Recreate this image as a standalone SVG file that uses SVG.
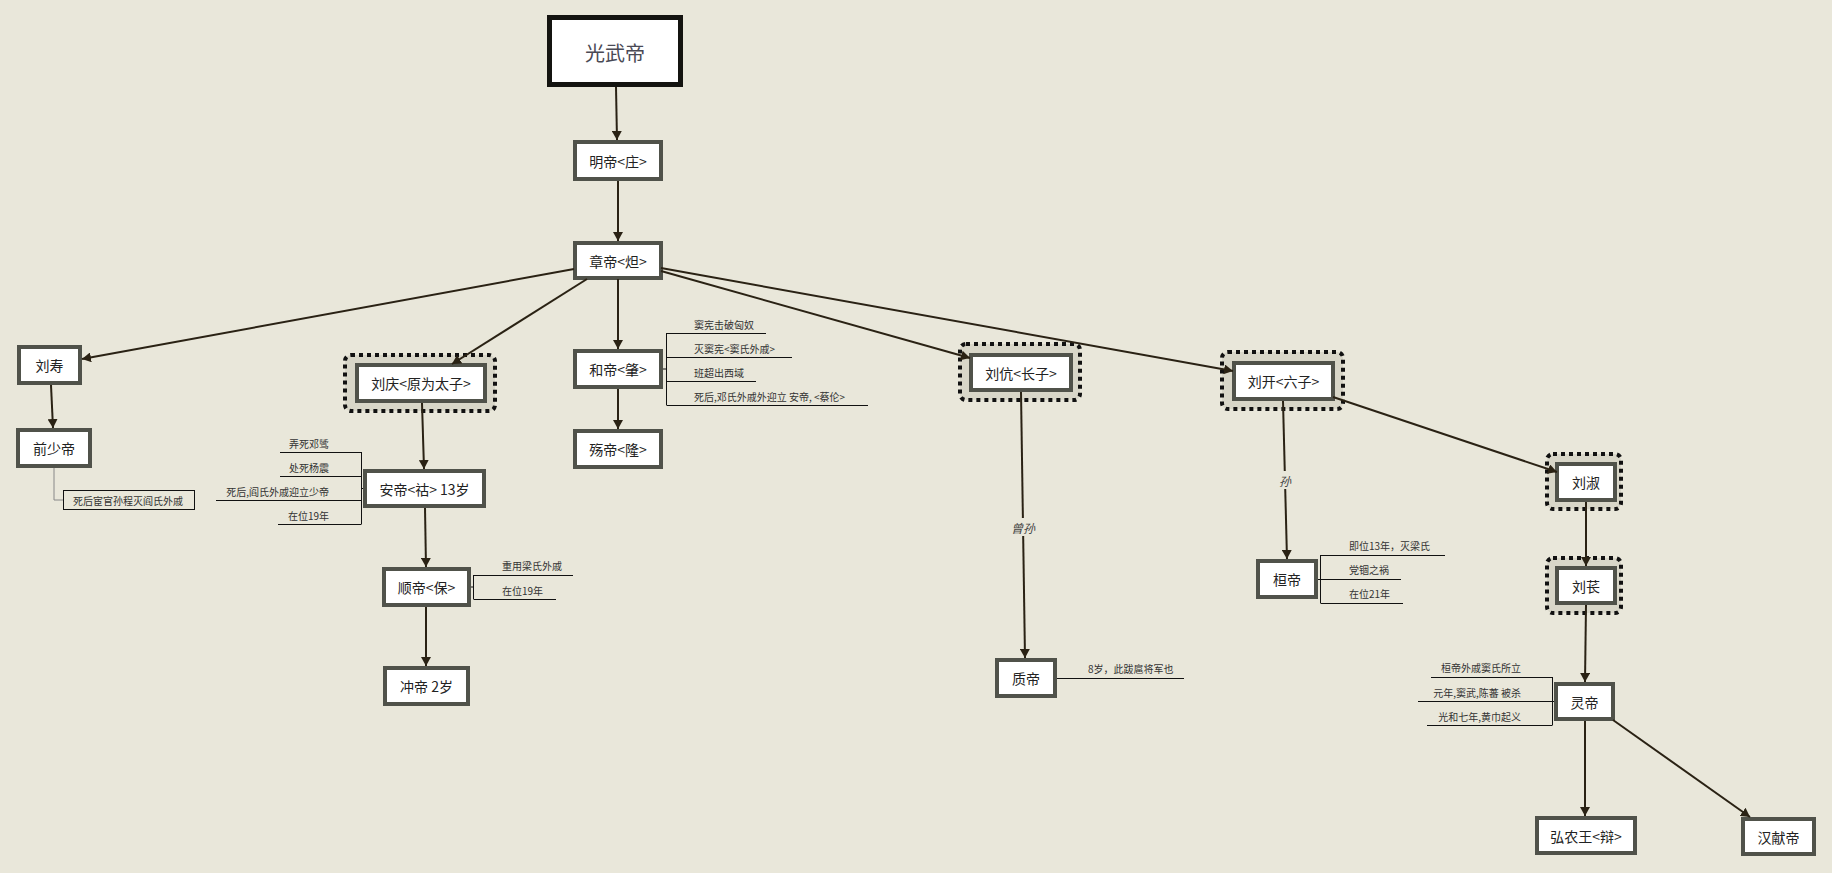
<svg xmlns="http://www.w3.org/2000/svg" width="1832" height="873" viewBox="0 0 1832 873">
<defs>
<marker id="arr" markerUnits="userSpaceOnUse" markerWidth="10" markerHeight="10" refX="9" refY="5" orient="auto">
<path d="M0,0 L9,5 L0,10 z" fill="#2a2214"/>
</marker>
<style>
.box{fill:#ffffff;stroke:#50524a;stroke-width:4}
.root{fill:#ffffff;stroke:#141410;stroke-width:5}
.halo{fill:#d8d6c8;stroke:#111;stroke-width:4;stroke-dasharray:4 4}
.t{font-family:"Noto Sans CJK SC","Noto Sans",sans-serif;font-size:14px;fill:#222;text-anchor:middle;dominant-baseline:central}
.rt{font-family:"Noto Sans CJK SC","Noto Sans",sans-serif;font-size:20px;fill:#4a4a55;text-anchor:middle;dominant-baseline:central}
.n{font-family:"Noto Sans CJK SC","Noto Sans",sans-serif;font-size:10px;fill:#333;dominant-baseline:central}
.nr{font-family:"Noto Sans CJK SC","Noto Sans",sans-serif;font-size:10px;fill:#333;dominant-baseline:central;text-anchor:end}
.e{stroke:#2a2214;stroke-width:2;fill:none;marker-end:url(#arr)}
.nl{stroke:#111;stroke-width:1;fill:none}
.lbl{font-family:"Noto Sans CJK SC","Noto Sans",sans-serif;font-size:12px;fill:#444;font-style:italic;text-anchor:middle;dominant-baseline:central}
</style>
</defs>
<rect width="1832" height="873" fill="#e9e7da"/>

<g id="n-guangwu"><rect class="root" x="549.5" y="17.5" width="131" height="67"/><text class="rt" x="615" y="52">光武帝</text></g>
<g id="n-ming"><rect class="box" x="575" y="142" width="86" height="37"/><text class="t" x="618" y="160.5">明帝&lt;庄&gt;</text></g>
<g id="n-zhang"><rect class="box" x="575" y="243" width="86" height="35"/><text class="t" x="618" y="260.5">章帝&lt;炟&gt;</text></g>

<g id="n-liushou"><rect class="box" x="19" y="347" width="61" height="36"/><text class="t" x="49.5" y="365">刘寿</text></g>
<g id="n-qianshao"><rect class="box" x="18" y="430" width="72" height="36"/><text class="t" x="54" y="448">前少帝</text>
<path d="M54,468 V500 H63" stroke="#888" stroke-width="1" fill="none"/>
<rect x="63.5" y="490.5" width="131" height="19" fill="none" stroke="#111" stroke-width="1"/>
<text class="n" x="73" y="500">死后宦官孙程灭阎氏外戚</text></g>

<g id="n-liuqing"><rect class="halo" x="345" y="355" width="150" height="56" rx="6"/><rect class="box" x="357" y="365" width="128" height="36"/><text class="t" x="421" y="383">刘庆&lt;原为太子&gt;</text></g>
<g id="n-an"><rect class="box" x="365" y="471" width="119" height="35"/><text class="t" x="424.5" y="488.5">安帝&lt;祜&gt; 13岁</text>
<path class="nl" d="M363,488.5 H361 M361.5,452 V524 M280,452.5 H361.5 M280,476.5 H361.5 M216,500.5 H361.5 M278,524.5 H361.5"/>
<text class="nr" x="329" y="443">弄死邓骘</text>
<text class="nr" x="329" y="467">处死杨震</text>
<text class="nr" x="329" y="491">死后,阎氏外戚迎立少帝</text>
<text class="nr" x="329" y="515">在位19年</text></g>
<g id="n-shun"><rect class="box" x="384" y="569" width="85" height="36"/><text class="t" x="426.5" y="587">顺帝&lt;保&gt;</text>
<path class="nl" d="M471,587 H473 M473.5,575 V599 M473.5,575.5 H573 M473.5,599.5 H556"/>
<text class="n" x="502" y="565">重用梁氏外戚</text>
<text class="n" x="502" y="590">在位19年</text></g>
<g id="n-chong"><rect class="box" x="385" y="668" width="83" height="36"/><text class="t" x="426.5" y="686">冲帝 2岁</text></g>

<g id="n-he"><rect class="box" x="575" y="351" width="86" height="36"/><text class="t" x="618" y="369">和帝&lt;肇&gt;</text>
<path class="nl" d="M663,369 H666 M666.5,333 V405 M666.5,333.5 H766 M666.5,357.5 H792 M666.5,381.5 H756 M666.5,405.5 H868"/>
<text class="n" x="694" y="324">窦宪击破匈奴</text>
<text class="n" x="694" y="348">灭窦宪&lt;窦氏外戚&gt;</text>
<text class="n" x="694" y="372">班超出西域</text>
<text class="n" x="694" y="396">死后,邓氏外戚外迎立 安帝, &lt;蔡伦&gt;</text></g>
<g id="n-shang"><rect class="box" x="575" y="431" width="86" height="36"/><text class="t" x="618" y="449">殇帝&lt;隆&gt;</text></g>

<g id="n-liukang"><rect class="halo" x="960" y="344" width="120" height="56" rx="6"/><rect class="box" x="971" y="355" width="100" height="35"/><text class="t" x="1021" y="372.5">刘伉&lt;长子&gt;</text></g>
<g id="n-zhi"><rect class="box" x="997" y="660" width="58" height="36"/><text class="t" x="1026" y="678">质帝</text>
<path class="nl" d="M1057,678.5 H1184"/>
<text class="n" x="1088" y="668">8岁，此跋扈将军也</text></g>

<g id="n-liukai"><rect class="halo" x="1222" y="352" width="121" height="57" rx="6"/><rect class="box" x="1234" y="363" width="99" height="36"/><text class="t" x="1283.5" y="381">刘开&lt;六子&gt;</text></g>
<g id="n-huan"><rect class="box" x="1258" y="561" width="58" height="36"/><text class="t" x="1287" y="579">桓帝</text>
<path class="nl" d="M1318,579.5 H1320 M1320.5,555 V603 M1320.5,555.5 H1445 M1320.5,579.5 H1401 M1320.5,603.5 H1403"/>
<text class="n" x="1349" y="545">即位13年，灭梁氏</text>
<text class="n" x="1349" y="569">党锢之祸</text>
<text class="n" x="1349" y="593">在位21年</text></g>

<g id="n-liushu"><rect class="halo" x="1547" y="454" width="74" height="55" rx="6"/><rect class="box" x="1557" y="464" width="58" height="36"/><text class="t" x="1586" y="482">刘淑</text></g>
<g id="n-liuchang"><rect class="halo" x="1547" y="558" width="74" height="55" rx="6"/><rect class="box" x="1557" y="568" width="58" height="35"/><text class="t" x="1586" y="585.5">刘苌</text></g>
<g id="n-ling"><rect class="box" x="1556" y="684" width="57" height="35"/><text class="t" x="1584.5" y="701.5">灵帝</text>
<path class="nl" d="M1554,701.5 H1552 M1552.5,677 V725 M1431,677.5 H1552.5 M1418,701.5 H1552.5 M1427,725.5 H1552.5"/>
<text class="nr" x="1521" y="667">桓帝外戚窦氏所立</text>
<text class="nr" x="1521" y="692">元年,窦武,陈蕃 被杀</text>
<text class="nr" x="1521" y="716">光和七年,黄巾起义</text></g>
<g id="n-hongnong"><rect class="box" x="1537" y="818" width="98" height="35"/><text class="t" x="1586" y="835.5">弘农王&lt;辩&gt;</text></g>
<g id="n-xian"><rect class="box" x="1743" y="819" width="71" height="35"/><text class="t" x="1778.5" y="836.5">汉献帝</text></g>

<g id="connectors">
<line class="e" x1="616" y1="87" x2="617" y2="140"/>
<line class="e" x1="618" y1="181" x2="618" y2="241"/>
<line class="e" x1="574" y1="269" x2="82" y2="359"/>
<line class="e" x1="587" y1="279" x2="452" y2="364"/>
<line class="e" x1="618" y1="279" x2="618" y2="349"/>
<line class="e" x1="661" y1="271" x2="970" y2="358"/>
<line class="e" x1="661" y1="268" x2="1233" y2="371"/>
<line class="e" x1="1333" y1="397" x2="1557" y2="472"/>
<line class="e" x1="51" y1="385" x2="53" y2="428"/>
<line class="e" x1="422" y1="403" x2="424" y2="469"/>
<line class="e" x1="425" y1="508" x2="426" y2="567"/>
<line class="e" x1="426" y1="607" x2="426" y2="666"/>
<line class="e" x1="618" y1="389" x2="618" y2="429"/>
<line class="e" x1="1021" y1="392" x2="1025" y2="658"/>
<line class="e" x1="1283" y1="401" x2="1287" y2="559"/>
<line class="e" x1="1586" y1="502" x2="1586" y2="566"/>
<line class="e" x1="1586" y1="605" x2="1585" y2="682"/>
<line class="e" x1="1585" y1="721" x2="1585" y2="816"/>
<line class="e" x1="1613" y1="720" x2="1750" y2="817"/>
<rect x="1012" y="518" width="22" height="18" fill="#e9e7da"/>
<text class="lbl" x="1023" y="527">曾孙</text>
<rect x="1278" y="471" width="14" height="18" fill="#e9e7da"/>
<text class="lbl" x="1285" y="480">孙</text>
</g>
</svg>
